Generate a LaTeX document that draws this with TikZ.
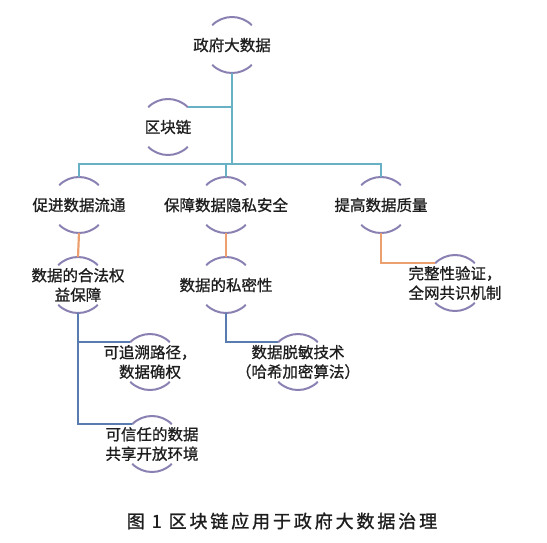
\documentclass[tikz,border=0pt]{standalone}
\usepackage{fontspec}
\usepackage{xcolor}
\usepackage{tikz}
\usetikzlibrary{positioning, calc}
\setmainfont{Noto Sans CJK SC}
\definecolor{myarc}{RGB}{138,128,178}
\definecolor{myteal}{RGB}{104,176,196}
\definecolor{myorange}{RGB}{236,160,112}
\definecolor{myblue}{RGB}{88,124,176}
\definecolor{mytext}{RGB}{30,30,30}
\tikzset{
  bub/.style={circle, minimum size=56pt, inner sep=0pt, align=center,
    text=mytext, font=\fontsize{15.5}{19.5}\selectfont\addfontfeature{FakeBold=1}},
  arcline/.style={line width=2pt, color=myarc},
  tealline/.style={line width=2.2pt, color=myteal},
  orangeline/.style={line width=2.2pt, color=myorange},
  blueline/.style={line width=2.2pt, color=myblue}
}

\begin{document}
\begin{tikzpicture}[x=1pt, y=1pt]
  \useasboundingbox (0,0) rectangle (547,-542);

  % Nodes
  \node[bub] (gov) at (232,-45) {政府大数据};
  \node[bub] (chain) at (168,-127) {区块链};
  \node[bub] (flow) at (79,-205) {促进数据流通};
  \node[bub] (secure) at (226,-205) {保障数据隐私安全};
  \node[bub] (quality) at (381,-205) {提高数据质量};
  \node[bub] (legal) at (78,-285) {数据的合法权\\益保障};
  \node[bub] (privacy) at (226,-285) {数据的私密性};
  \node[bub] (integrity) at (455,-283) {完整性验证，\\全网共识机制};
  \node[bub] (trace) at (150,-362) {可追溯路径，\\数据确权};
  \node[bub] (mask) at (298,-362) {数据脱敏技术\\（哈希加密算法）};
  \node[bub] (share) at (152,-444) {可信任的数据\\共享开放环境};

  % Arcs above and below each node
  \foreach \n in {gov,chain,flow,secure,quality,legal,privacy,integrity,trace,mask,share} {
    \draw[arcline] ([shift={(45:28)}]\n.center) arc[start angle=45, end angle=135, radius=28];
    \draw[arcline] ([shift={(225:28)}]\n.center) arc[start angle=225, end angle=315, radius=28];
  }

  % Teal tree
  \coordinate (bus) at (0,-164);
  \coordinate (chainEnd) at ([shift={(45:28)}]chain.center);
  \draw[tealline] ([yshift=-28pt]gov.center) -- (gov.center |- bus);
  \draw[tealline] (chainEnd) -- (gov.center |- chainEnd);
  \draw[tealline] ([yshift=28pt]flow.center) -- (flow.center |- bus) -- (quality.center |- bus) -- ([yshift=28pt]quality.center);
  \draw[tealline] ([yshift=28pt]secure.center) -- (secure.center |- bus);

  % Orange links
  \draw[orangeline] ([yshift=-28pt]flow.center) -- ([yshift=28pt]legal.center);
  \draw[orangeline] ([yshift=-28pt]secure.center) -- ([yshift=28pt]privacy.center);
  \draw[orangeline] ([yshift=-28pt]quality.center) |- ([shift={(135:28)}]integrity.center);

  % Blue links
  \coordinate (traceEnd) at ([shift={(135:28)}]trace.center);
  \draw[blueline] ([yshift=-28pt]legal.center) |- ([shift={(135:28)}]share.center);
  \draw[blueline] (legal.center |- traceEnd) -- (traceEnd);
  \draw[blueline] ([yshift=-28pt]privacy.center) |- ([shift={(135:28)}]mask.center);

  % Caption
  \node[text=mytext, font=\fontsize{18}{21}\selectfont\addfontfeature{LetterSpace=16,FakeBold=1.2}] (cap) at (282,-521) {图 1 区块链应用于政府大数据治理};
\end{tikzpicture}
\end{document}
